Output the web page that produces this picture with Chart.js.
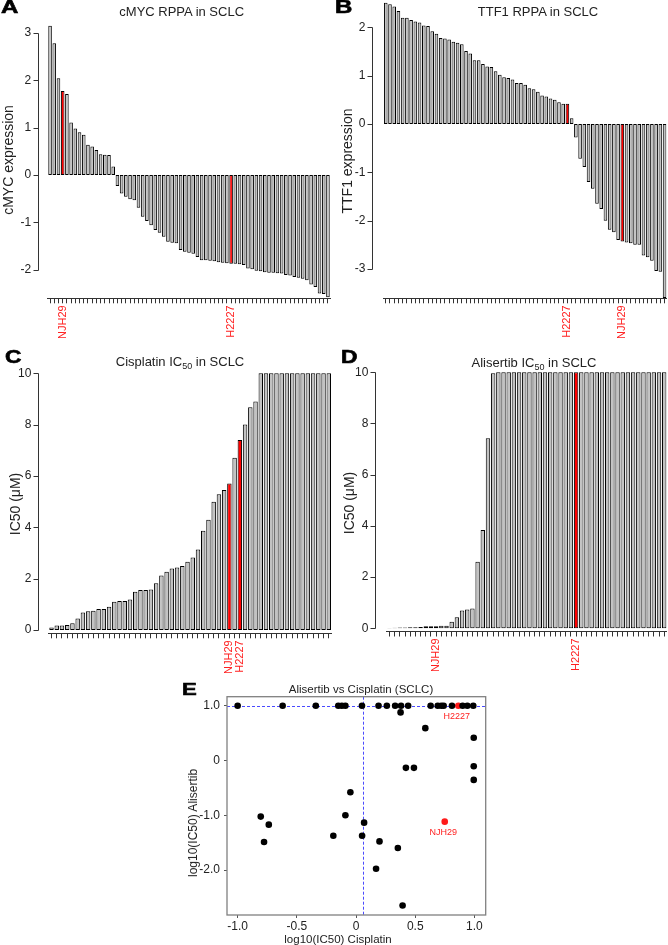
<!DOCTYPE html>
<html><head><meta charset="utf-8">
<script src="https://cdn.jsdelivr.net/npm/chart.js@4.4.1/dist/chart.umd.min.js"></script>
<style>
html,body{margin:0;padding:0;background:#fff;}
#fig{position:relative;width:668px;height:945px;overflow:hidden;font-family:"Liberation Sans",Arial,sans-serif;color:#222;}
#fig canvas{position:absolute;}
.t{position:absolute;white-space:nowrap;}
.L{-webkit-text-stroke:0.6px #000;color:#000;}
</style></head><body><div id="fig">
<canvas id="cA" width="334" height="345" style="left:0;top:0;width:334px;height:345px"></canvas>
<canvas id="cB" width="334" height="345" style="left:334px;top:0;width:334px;height:345px"></canvas>
<canvas id="cC" width="334" height="335" style="left:0;top:345px;width:334px;height:335px"></canvas>
<canvas id="cD" width="334" height="335" style="left:334px;top:345px;width:334px;height:335px"></canvas>
<canvas id="cE" width="330" height="265" style="left:170px;top:680px;width:330px;height:265px"></canvas>
</div>
<script>
// ---------------- DATA ----------------
const cmycValues = [3.15, 2.78, 2.04, 1.77, 1.71, 1.11, 0.98, 0.90, 0.85, 0.64,
  0.60, 0.53, 0.44, 0.43, 0.42, 0.18, -0.23, -0.39, -0.46, -0.51,
  -0.53, -0.69, -0.88, -0.97, -1.06, -1.16, -1.22, -1.30, -1.41, -1.43,
  -1.44, -1.58, -1.62, -1.64, -1.66, -1.73, -1.80, -1.80, -1.81, -1.82,
  -1.84, -1.85, -1.86, -1.87, -1.87, -1.88, -1.90, -1.97, -1.99, -2.02,
  -2.03, -2.05, -2.06, -2.06, -2.07, -2.08, -2.11, -2.12, -2.15, -2.17,
  -2.19, -2.22, -2.31, -2.36, -2.50, -2.51, -2.58];
const cmycHighlights = {3: 'NJH29', 43: 'H2227'};

const ttf1Values = [2.51, 2.48, 2.43, 2.34, 2.20, 2.20, 2.15, 2.12, 2.10, 2.04,
  2.03, 1.92, 1.87, 1.78, 1.77, 1.75, 1.70, 1.68, 1.65, 1.51,
  1.46, 1.32, 1.32, 1.24, 1.19, 1.18, 1.09, 1.02, 0.97, 0.95,
  0.92, 0.85, 0.85, 0.81, 0.74, 0.72, 0.67, 0.59, 0.57, 0.53,
  0.50, 0.45, 0.42, 0.42, 0.12,
  -0.28, -0.72, -0.89, -1.20, -1.34, -1.65, -1.76, -2.00, -2.19, -2.24, -2.40,
  -2.43,
  -2.45, -2.47, -2.50, -2.50, -2.72, -2.76, -2.83, -3.04, -3.06, -3.60];
const ttf1Highlights = {43: 'H2227', 56: 'NJH29'};

const cisplatinValues = [0.10, 0.18, 0.18, 0.19, 0.26, 0.45, 0.68, 0.73, 0.75, 0.82,
  0.82, 0.91, 1.10, 1.13, 1.13, 1.19, 1.49, 1.56, 1.56, 1.58,
  1.82, 2.12, 2.27, 2.40, 2.43, 2.49, 2.66, 2.82, 3.14, 3.87,
  4.29, 5.00, 5.29, 5.45, 5.71, 6.71, 7.40, 8.01, 8.68, 8.90,
  10, 10, 10, 10, 10, 10, 10, 10, 10, 10, 10, 10, 10, 10];
const cisplatinHighlights = {34: 'NJH29', 36: 'H2227'};

const alisertibValues = [0.01, 0.02, 0.03, 0.03, 0.04, 0.04, 0.05, 0.08, 0.08, 0.08,
  0.10, 0.10, 0.26, 0.43, 0.70, 0.73, 0.77, 2.60, 3.84, 7.42,
  9.96, 10, 10, 10, 10, 10, 10, 10, 10, 10,
  10, 10, 10, 10, 10, 10, 10, 10, 10, 10,
  10, 10, 10, 10, 10, 10, 10, 10, 10, 10,
  10, 10, 10, 10];
const alisertibHighlights = {9: 'NJH29', 36: 'H2227'};

const rppaTicksA = [-2, -1, 0, 1, 2, 3];
const rppaTicksB = [-3, -2, -1, 0, 1, 2];
const ic50Ticks = [0, 2, 4, 6, 8, 10];

// Panel E: log10(IC50) cisplatin (x) vs alisertib (y)
const scatterX = [-1.00, -0.62, -0.34, -0.15, -0.12, -0.09, 0.05, 0.19, 0.26, 0.33,
  0.38, 0.44, 0.63, 0.69, 0.72, 0.74, 0.81, 0.90, 0.94, 0.99,
  0.376, 0.585, 0.994, 0.994, 0.994, 0.421, 0.489, -0.048, -0.090, -0.805,
  -0.737, -0.777, -0.192, 0.068, 0.051, 0.198, 0.353, 0.169, 0.393];
const scatterY = [1.0, 1.0, 1.0, 1.0, 1.0, 1.0, 1.0, 1.0, 1.0, 1.0,
  1.0, 1.0, 1.0, 1.0, 1.0, 1.0, 1.0, 1.0, 1.0, 1.0,
  0.878, 0.591, 0.415, -0.104, -0.354, -0.134, -0.134, -0.579, -1.0, -1.024,
  -1.171, -1.488, -1.372, -1.134, -1.372, -1.476, -1.598, -1.976, -2.646];
const highlightNames = ['H2227', 'NJH29'];
const highlightX = [0.864, 0.749];
const highlightY = [1.0, -1.116];
const scatterXTicks = [-1, -0.5, 0, 0.5, 1];
const scatterYTicks = [-2, -1, 0, 1];
const cisThreshold = 0.055;
const aliThreshold = 1.0;

// ---------------- STYLE ----------------
Chart.defaults.font.family = '"Liberation Sans", Arial, sans-serif';
Chart.defaults.color = '#222';
const FIG = document.getElementById('fig');

function place(html, x, baseline, size, opt = {}) {
  const d = document.createElement('div');
  d.className = 't' + (opt.cls ? ' ' + opt.cls : '');
  d.innerHTML = html;
  d.style.fontSize = size + 'px';
  d.style.lineHeight = size + 'px';
  d.style.top = (baseline - 0.8465 * size) + 'px';
  d.style.left = x + 'px';
  if (opt.weight) d.style.fontWeight = opt.weight;
  if (opt.center) d.style.transform = 'translateX(-50%)';
  else if (opt.extra) { d.style.transform = opt.extra; d.style.transformOrigin = 'left bottom'; }
  FIG.appendChild(d);
}
function placeV(html, cx, cy, size) {
  const d = document.createElement('div');
  d.className = 't';
  d.innerHTML = html;
  d.style.fontSize = size + 'px';
  d.style.lineHeight = size + 'px';
  d.style.left = cx + 'px';
  d.style.top = cy + 'px';
  d.style.transform = 'translate(-50%,-50%) rotate(-90deg)';
  FIG.appendChild(d);
}

// R-like y axis: line from first to last tick, offset left of the plot
const rAxis = (gap) => ({
  id: 'rAxis',
  afterDraw(chart) {
    const y = chart.scales.y, ctx = chart.ctx;
    const x0 = Math.round(chart.chartArea.left - gap) + 0.5;
    const px = y.ticks.map(t => Math.round(y.getPixelForValue(t.value)) + 0.5);
    ctx.save();
    ctx.strokeStyle = '#333'; ctx.lineWidth = 1;
    ctx.beginPath();
    ctx.moveTo(x0, Math.min(...px)); ctx.lineTo(x0, Math.max(...px));
    px.forEach(p => { ctx.moveTo(x0, p); ctx.lineTo(x0 - 5, p); });
    ctx.stroke();
    ctx.restore();
  }
});

function barPanel(id, values, highlights, yTicks, g) {
  const labels = values.map((_, i) => highlights[i] || '');
  const colors = values.map((_, i) => highlights[i] ? '#ff0000' : '#c2c2c2');
  new Chart(document.getElementById(id), {
    type: 'bar',
    data: { labels, datasets: [{ data: values, backgroundColor: colors, borderColor: '#000',
      borderWidth: 1, borderSkipped: false, categoryPercentage: 1, barPercentage: 0.85 }] },
    options: {
      responsive: false, animation: false, devicePixelRatio: 1,
      layout: { padding: { top: g.padTop, right: g.padRight, left: 0, bottom: 0 } },
      plugins: { legend: { display: false }, tooltip: { enabled: false } },
      scales: {
        x: { type: 'category', offset: true,
          grid: { display: true, offset: false, drawOnChartArea: false, drawTicks: true, tickLength: 5, color: '#333', lineWidth: 1 },
          border: { display: true, color: '#333', width: 1 },
          ticks: { autoSkip: false, minRotation: 90, maxRotation: 90, padding: 2, color: '#ff2020', font: { size: 11 } },
          afterFit: s => { s.height = g.xHeight; s.paddingLeft = 0; s.paddingRight = 0; } },
        y: { type: 'linear', min: g.yMin, max: g.yMax,
          afterBuildTicks: s => { s.ticks = yTicks.map(v => ({ value: v })); },
          grid: { display: false, drawTicks: false }, border: { display: false },
          ticks: { padding: g.gap + 7, color: '#222', font: { size: 12 } },
          afterFit: s => { s.width = g.yWidth; s.paddingTop = 0; s.paddingBottom = 0; } }
      }
    },
    plugins: [rAxis(g.gap)]
  });
}

barPanel('cA', cmycValues, cmycHighlights, rppaTicksA,
  { padTop: 15, padRight: 3.95, yWidth: 47.95, xHeight: 46.7, yMin: -2.601, yMax: 3.376, gap: 9.7 });
barPanel('cB', ttf1Values, ttf1Highlights, rppaTicksB,
  { padTop: 2, padRight: 1.3, yWidth: 49.65, xHeight: 46.7, yMin: -3.607, yMax: 2.525, gap: 11.35 });
barPanel('cC', cisplatinValues, cisplatinHighlights, ic50Ticks,
  { padTop: 20, padRight: 2.6, yWidth: 48.9, xHeight: 46.7, yMin: -0.1286, yMax: 10.323, gap: 10.6 });
barPanel('cD', alisertibValues, alisertibHighlights, ic50Ticks,
  { padTop: 20, padRight: 1.2, yWidth: 52.9, xHeight: 48.5, yMin: -0.125, yMax: 10.285, gap: 11.6 });

// ---------------- Panel E ----------------
const blackPts = scatterX.map((x, i) => ({ x, y: scatterY[i] }));
const redPts = highlightX.map((x, i) => ({ x, y: highlightY[i] }));
const fmtE = v => v === 0 ? '0' : v.toFixed(1);
const eDecor = {
  id: 'eDecor',
  beforeDatasetsDraw(chart) {
    const { ctx, chartArea: a, scales: { x, y } } = chart;
    ctx.save();
    ctx.strokeStyle = '#4a4aff'; ctx.lineWidth = 1; ctx.setLineDash([3, 2]);
    const yy = Math.round(y.getPixelForValue(aliThreshold)) + 0.5;
    const xx = Math.round(x.getPixelForValue(cisThreshold)) + 0.5;
    ctx.beginPath();
    ctx.moveTo(a.left, yy); ctx.lineTo(a.right, yy);
    ctx.moveTo(xx, a.top); ctx.lineTo(xx, a.bottom);
    ctx.stroke();
    ctx.setLineDash([]);
    ctx.strokeStyle = '#808080'; ctx.lineWidth = 1.3;
    ctx.strokeRect(a.left, a.top, a.right - a.left, a.bottom - a.top);
    ctx.restore();
  },
  afterDatasetsDraw(chart) {
    const ctx = chart.ctx, meta = chart.getDatasetMeta(1);
    ctx.save();
    ctx.fillStyle = '#ff2020'; ctx.font = '9px "Liberation Sans", Arial, sans-serif';
    ctx.textAlign = 'center'; ctx.textBaseline = 'middle';
    meta.data.forEach((p, i) => ctx.fillText(highlightNames[i], p.x - 1.5, p.y + 11));
    ctx.restore();
  }
};
new Chart(document.getElementById('cE'), {
  type: 'scatter',
  data: { datasets: [
    { data: blackPts, backgroundColor: '#000', borderWidth: 0, pointRadius: 3.3 },
    { data: redPts, backgroundColor: '#ff1a1a', borderWidth: 0, pointRadius: 3.3 }
  ] },
  options: {
    responsive: false, animation: false, devicePixelRatio: 1,
    layout: { padding: { top: 16.7, right: 14.3, left: 0, bottom: 0 } },
    plugins: { legend: { display: false }, tooltip: { enabled: false } },
    scales: {
      x: { type: 'linear', min: -1.09, max: 1.095,
        afterBuildTicks: s => { s.ticks = scatterXTicks.map(v => ({ value: v })); },
        grid: { display: true, drawOnChartArea: false, drawTicks: true, tickLength: 3, color: '#555' },
        border: { display: false },
        ticks: { autoSkip: false, maxRotation: 0, padding: 1, color: '#222', font: { size: 12 }, callback: fmtE },
        afterFit: s => { s.height = 30; s.paddingLeft = 0; s.paddingRight = 0; } },
      y: { type: 'linear', min: -2.82, max: 1.165,
        afterBuildTicks: s => { s.ticks = scatterYTicks.map(v => ({ value: v })); },
        grid: { display: true, drawOnChartArea: false, drawTicks: true, tickLength: 3, color: '#555' },
        border: { display: false },
        ticks: { padding: 4, color: '#222', font: { size: 12 }, callback: fmtE },
        afterFit: s => { s.width = 57; s.paddingTop = 0; s.paddingBottom = 0; } }
    }
  },
  plugins: [eDecor]
});

// ---------------- TEXT ----------------
const LET = { weight: 'bold', cls: 'L', extra: 'scaleX(1.3)' };
place('A', 0.5, 13.5, 18.5, LET);
place('B', 334.5, 13.5, 18.5, LET);
place('C', 5, 364, 17.5, LET);
place('D', 341, 364, 17.5, LET);
place('E', 182, 695.5, 17, LET);

place('cMYC RPPA in SCLC', 181.7, 16, 13, { center: true });
place('TTF1 RPPA in SCLC', 538, 16, 13, { center: true });
place('Cisplatin IC<span style="font-size:9px;position:relative;top:3px">50</span> in SCLC', 180, 366.5, 13, { center: true });
place('Alisertib IC<span style="font-size:9px;position:relative;top:3px">50</span> in SCLC', 534, 367.5, 13, { center: true });
place('Alisertib vs Cisplatin (SCLC)', 361, 694, 11.5, { center: true });

placeV('cMYC expression', 8.45, 160, 14);
placeV('TTF1 expression', 347.45, 160.8, 14);
placeV('IC50 (μM)', 15.15, 504, 14);
placeV('IC50 (μM)', 349.15, 503.3, 14);
placeV('log10(IC50) Alisertib', 192.7, 823.3, 12);
place('log10(IC50) Cisplatin', 338, 943.5, 11.5, { center: true });
</script>
</body></html>
